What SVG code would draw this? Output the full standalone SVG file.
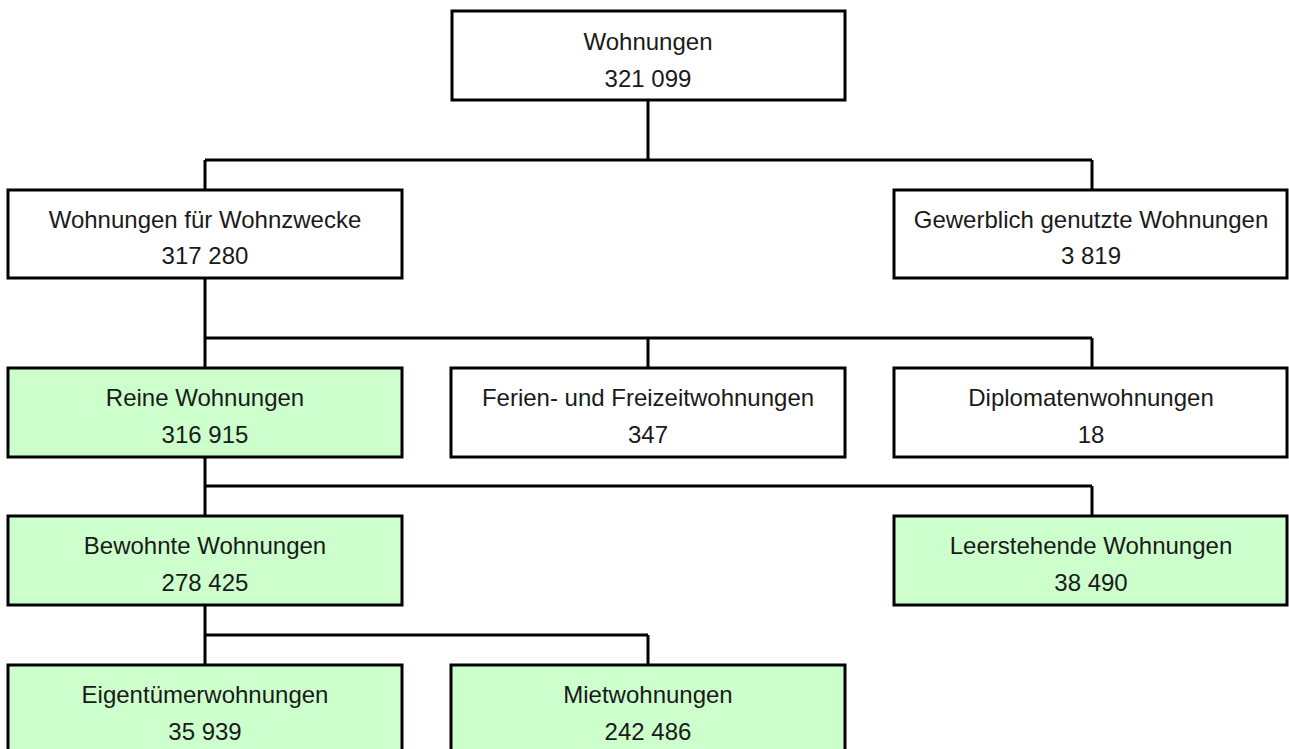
<svg xmlns="http://www.w3.org/2000/svg" width="1289" height="749" viewBox="0 0 1289 749">
<style>
.box{fill:#ffffff;stroke:#000;stroke-width:3}
.g{fill:#ccffcc}
.t{font-family:"Liberation Sans",Arial,sans-serif;font-size:24px;fill:#1a1a1a;text-anchor:middle}
.c{fill:none;stroke:#000;stroke-width:3}
</style>
<rect width="1289" height="749" fill="#fff"/>
<g id="connectors">
<path class="c" d="M648 100V160M205 160H1092M205 160V190M1092 160V190"/>
<path class="c" d="M205 278V338M205 338H1092M205 338V368M648 338V368M1092 338V368"/>
<path class="c" d="M205 457V486M205 486H1092M205 486V516M1092 486V516"/>
<path class="c" d="M205 605V635M205 635H648M205 635V665M648 635V665"/>
</g>
<g id="n-wohnungen"><rect class="box" x="452" y="11" width="393" height="89"/><text class="t" x="648" y="50">Wohnungen</text><text class="t" x="648" y="87">321 099</text></g>
<g id="n-wohnzwecke"><rect class="box" x="8" y="190" width="394" height="88"/><text class="t" x="205" y="228">Wohnungen für Wohnzwecke</text><text class="t" x="205" y="264">317 280</text></g>
<g id="n-gewerblich"><rect class="box" x="894" y="190" width="393" height="88"/><text class="t" x="1091" y="228">Gewerblich genutzte Wohnungen</text><text class="t" x="1091" y="264">3 819</text></g>
<g id="n-reine"><rect class="box g" x="8" y="368" width="394" height="89"/><text class="t" x="205" y="406">Reine Wohnungen</text><text class="t" x="205" y="443">316 915</text></g>
<g id="n-ferien"><rect class="box" x="451" y="368" width="394" height="89"/><text class="t" x="648" y="406">Ferien- und Freizeitwohnungen</text><text class="t" x="648" y="443">347</text></g>
<g id="n-diplomaten"><rect class="box" x="894" y="368" width="393" height="89"/><text class="t" x="1091" y="406">Diplomatenwohnungen</text><text class="t" x="1091" y="443">18</text></g>
<g id="n-bewohnte"><rect class="box g" x="8" y="516" width="394" height="89"/><text class="t" x="205" y="554">Bewohnte Wohnungen</text><text class="t" x="205" y="591">278 425</text></g>
<g id="n-leerstehende"><rect class="box g" x="894" y="516" width="393" height="89"/><text class="t" x="1091" y="554">Leerstehende Wohnungen</text><text class="t" x="1091" y="591">38 490</text></g>
<g id="n-eigentuemer"><rect class="box g" x="8" y="665" width="394" height="89"/><text class="t" x="205" y="703">Eigentümerwohnungen</text><text class="t" x="205" y="740">35 939</text></g>
<g id="n-miet"><rect class="box g" x="451" y="665" width="394" height="89"/><text class="t" x="648" y="703">Mietwohnungen</text><text class="t" x="648" y="740">242 486</text></g>
</svg>
